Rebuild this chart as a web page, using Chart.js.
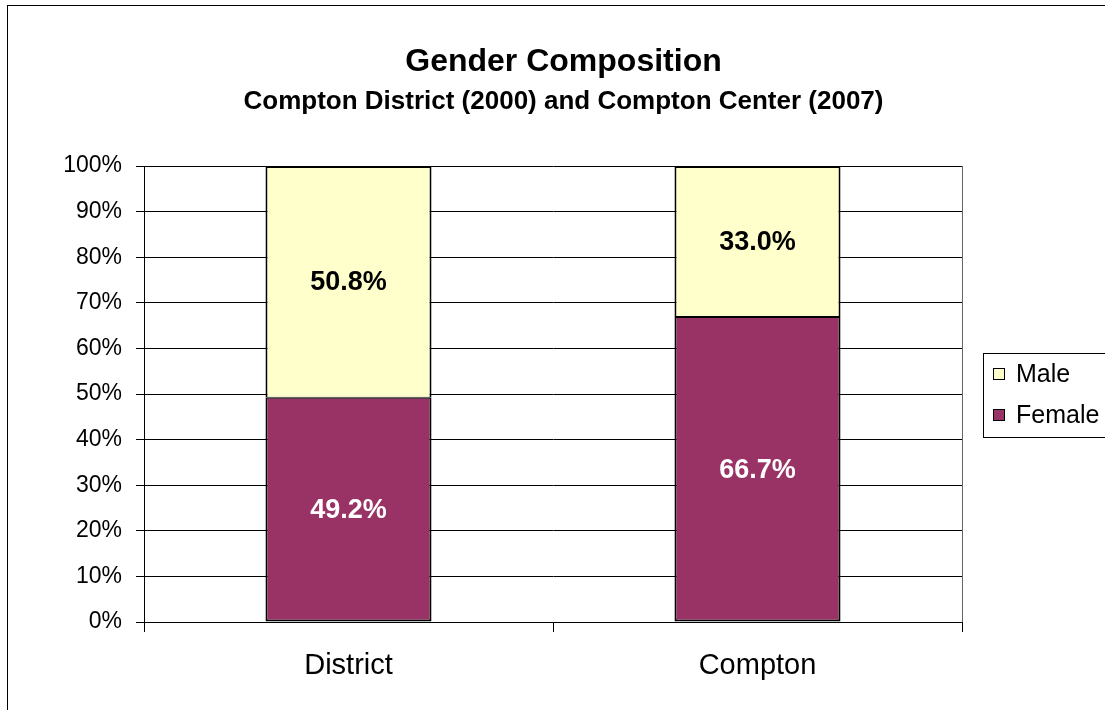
<!DOCTYPE html>
<html>
<head>
<meta charset="utf-8">
<title>Gender Composition</title>
<script src="https://cdn.jsdelivr.net/npm/chart.js@4/dist/chart.umd.min.js"></script>
<style>
    body { margin: 0; background: #fff; }
    #wrap { width: 1105px; height: 710px; position: relative; }
</style>
</head>
<body>
<div id="wrap"><canvas id="genderChart"></canvas></div>
<script>
// values
const places = ['District', 'Compton'];
const female = [49.2, 66.7];
const male = [50.8, 33.0];
const legendNames = ['Male', 'Female'];

const FONT = '"Liberation Sans", Arial, sans-serif';
const FEMALE_COLOR = '#993366';
const MALE_COLOR = '#FFFFCC';

// 100% stacked: each column is scaled to its own total
const totals = places.map((p, i) => female[i] + male[i]);
const femaleShare = female.map((v, i) => v / totals[i] * 100);
const maleShare = male.map((v, i) => v / totals[i] * 100);

const valueLabels = {
    id: 'valueLabels',
    afterDatasetsDraw(chart) {
        const ctx = chart.ctx;
        const raw = [female, male];
        const colors = ['#ffffff', '#000000'];
        ctx.save();
        ctx.font = 'bold 27px ' + FONT;
        ctx.textAlign = 'center';
        ctx.textBaseline = 'middle';
        chart.data.datasets.forEach((ds, d) => {
            chart.getDatasetMeta(d).data.forEach((bar, i) => {
                ctx.fillStyle = colors[d];
                ctx.fillText(raw[d][i].toFixed(1) + '%', bar.x, (bar.y + bar.base) / 2 + 1);
            });
        });
        ctx.restore();
    }
};

const frame = {
    id: 'frame',
    afterDraw(chart) {
        const ctx = chart.ctx;
        const a = chart.chartArea;
        ctx.save();
        // plot area right edge
        ctx.strokeStyle = '#666';
        ctx.lineWidth = 1;
        ctx.beginPath();
        ctx.moveTo(Math.round(a.right) + 0.5, a.top);
        ctx.lineTo(Math.round(a.right) + 0.5, a.bottom);
        ctx.stroke();
        // outer chart border
        ctx.strokeStyle = '#000';
        ctx.strokeRect(7.5, 5.5, 1300, 900);
        // legend
        ctx.strokeRect(983.5, 353.5, 200, 84);
        const fills = [MALE_COLOR, FEMALE_COLOR];
        const ys = [374, 415];
        ctx.font = '25px ' + FONT;
        ctx.textBaseline = 'middle';
        ctx.textAlign = 'left';
        legendNames.forEach((name, i) => {
            ctx.fillStyle = fills[i];
            ctx.fillRect(993, ys[i] - 6, 12, 12);
            ctx.strokeRect(993.5, ys[i] - 5.5, 11, 11);
            ctx.fillStyle = '#000';
            ctx.fillText(name, 1016, ys[i] + 1);
        });
        ctx.restore();
    }
};

const ctx = document.getElementById('genderChart').getContext('2d');
const chart = new Chart(ctx, {
    type: 'bar',
    data: {
        labels: places,
        datasets: [
            {
                label: 'Female',
                data: femaleShare,
                backgroundColor: FEMALE_COLOR,
                borderColor: '#000',
                borderWidth: { top: 1, left: 2, right: 2, bottom: 2 },
                borderSkipped: false
            },
            {
                label: 'Male',
                data: maleShare,
                backgroundColor: MALE_COLOR,
                borderColor: '#000',
                borderWidth: { top: 2, left: 2, right: 2, bottom: 1 },
                borderSkipped: false
            }
        ]
    },
    options: {
        responsive: true,
        maintainAspectRatio: false,
        animation: false,
        layout: { padding: { left: 22, right: 0, top: 0, bottom: 0 } },
        datasets: { bar: { categoryPercentage: 1, barPercentage: 0.406 } },
        plugins: {
            legend: { display: false },
            tooltip: { enabled: false },
            title: {
                display: true,
                text: 'Gender Composition',
                color: '#000',
                font: { family: FONT, size: 32, weight: 'bold' },
                padding: { top: 42.5, bottom: 0 }
            },
            subtitle: {
                display: true,
                text: 'Compton District (2000) and Compton Center (2007)',
                color: '#000',
                font: { family: FONT, size: 26, weight: 'bold' },
                padding: { top: 5.5, bottom: 48.4 }
            }
        },
        scales: {
            x: {
                stacked: true,
                afterFit(scale) { scale.height = 88; },
                grid: {
                    offset: true,
                    drawOnChartArea: false,
                    drawTicks: true,
                    tickLength: 10,
                    color: '#000'
                },
                border: { color: '#000', width: 1 },
                ticks: {
                    color: '#000',
                    padding: 17,
                    font: { family: FONT, size: 29 }
                }
            },
            y: {
                stacked: true,
                min: 0,
                max: 100,
                afterFit(scale) { scale.width = 122; },
                grid: {
                    color: '#000',
                    tickLength: 8,
                    lineWidth: 1
                },
                border: { color: '#000', width: 1 },
                ticks: {
                    stepSize: 10,
                    color: '#000',
                    padding: 14,
                    font: { family: FONT, size: 23 },
                    callback: v => v + '%'
                }
            },
            // empty axis that only reserves the room where the legend sits
            side: {
                position: 'right',
                min: 0,
                max: 100,
                afterFit(scale) { scale.width = 143; },
                grid: { display: false },
                border: { display: false },
                ticks: { display: false }
            }
        }
    },
    plugins: [valueLabels, frame]
});
</script>
</body>
</html>
